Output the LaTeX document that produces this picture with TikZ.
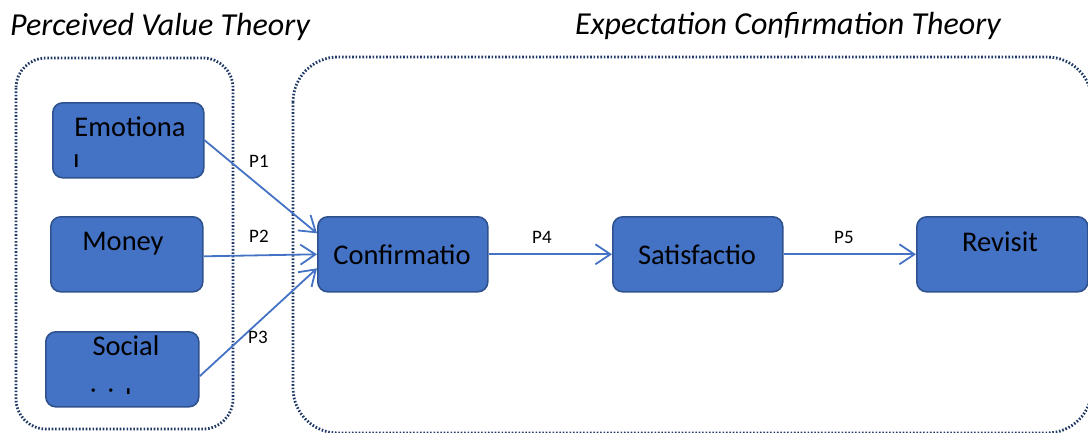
\documentclass[tikz,border=0pt]{standalone}
\usepackage{fontspec}
\setmainfont{Carlito}
\usetikzlibrary{arrows.meta,calc}
\definecolor{boxfill}{HTML}{4472C4}
\definecolor{boxline}{HTML}{2F528F}
\definecolor{dotline}{HTML}{1F3864}
\tikzset{
  x=1pt, y=-1pt,
  box/.style={draw=boxline, line width=1.6pt, fill=boxfill, rounded corners=10pt, inner sep=0pt, anchor=north west},
  boxtext/.style={font=\fontsize{28.5}{30}\selectfont, anchor=base, inner sep=0pt},
  plabel/.style={font=\fontsize{19}{21}\selectfont, anchor=base west, inner sep=0pt},
  title/.style={font=\fontsize{32}{34}\selectfont\itshape, anchor=base west, inner sep=0pt},
  group/.style={draw=dotline, line width=2.8pt, dash pattern=on 1.6pt off 1.8pt},
  flow/.style={draw=boxfill, line width=1.8pt, -{Straight Barb[length=15pt,width=20pt,line width=1.8pt]}},
}
\begin{document}
\begin{tikzpicture}
\useasboundingbox (0,0) rectangle (1088,432);
\clip (0,0) rectangle (1088,432);
% group frames
\draw[group, rounded corners=30pt] (16,58) rectangle (233,429);
\draw[group, rounded corners=45pt] (293,57) rectangle (1092,433);
% titles
\node[title] (t1) at (10,35) {Perceived Value Theory};
\node[title] (t2) at (575,34) {Expectation Confirmation Theory};
% boxes
\node[box, minimum width=151pt, minimum height=75pt] (emo) at (52,102) {};
\node[box, minimum width=152pt, minimum height=75pt] (money) at (50,216) {};
\node[box, minimum width=153pt, minimum height=75pt] (social) at (45,331) {};
\node[box, minimum width=170pt, minimum height=75pt] (conf) at (317,216) {};
\node[box, minimum width=170pt, minimum height=75pt] (sat) at (612,216) {};
\node[box, minimum width=171pt, minimum height=75pt] (rev) at (916,216) {};
% box texts
\node[boxtext] (emot) at (130,136) {Emotiona};
\begin{scope}
  \clip (70,154) rectangle (90,166);
  \node[boxtext, anchor=base west] (emol) at (73,174) {l};
\end{scope}
\node[boxtext] (moneyt) at (123,250) {Money};
\node[boxtext] (socialt) at (126,355) {Social};
\begin{scope}
  \clip (80,385) rectangle (140,393);
  \node[boxtext, anchor=base west] (socialb) at (90,408) {i\hspace{11pt}i\hspace{11pt}l};
\end{scope}
\node[boxtext] (conft) at (402,264) {Confirmatio};
\node[boxtext] (satt) at (697,264) {Satisfactio};
\node[boxtext] (revt) at (1000,251) {Revisit};
% connectors
\draw[flow] (emo.east) -- ([yshift=21pt]conf.west);
\draw[flow] ([yshift=-2pt]money.east) -- (conf.west);
\draw[flow] ([yshift=-7pt]social.east) -- ([yshift=-14pt]conf.west);
\draw[flow] (conf.east) -- (sat.west);
\draw[flow] (sat.east) -- (rev.west);
% labels
\node[plabel] (p1) at (249,167) {P1};
\node[plabel] (p2) at (249,242) {P2};
\node[plabel] (p3) at (248,343) {P3};
\node[plabel] (p4) at (532,243) {P4};
\node[plabel] (p5) at (834,243) {P5};
\end{tikzpicture}
\end{document}
